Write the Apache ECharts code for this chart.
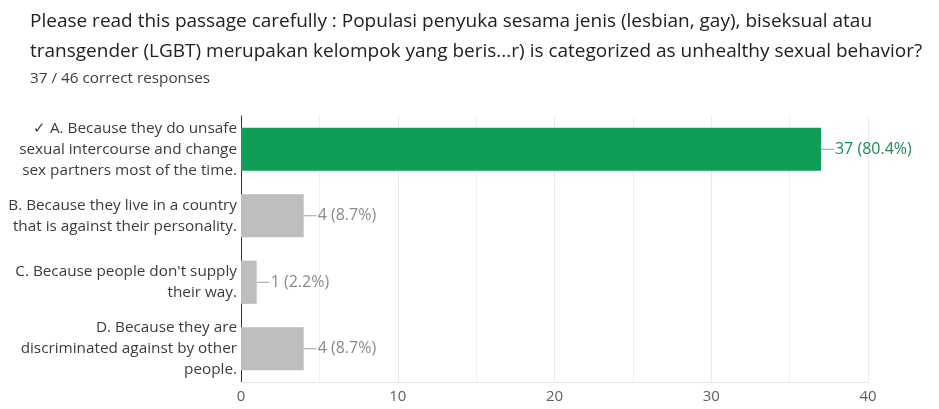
<!DOCTYPE html>
<html><head><meta charset="utf-8">
<script src="https://cdn.jsdelivr.net/npm/echarts@6/dist/echarts.min.js"></script>
<style>html,body{margin:0;padding:0;background:#fff}#c{width:939px;height:409px}</style>
</head><body><div id="c"></div>
<script>
var questionTitle = 'Please read this passage carefully : Populasi penyuka sesama jenis (lesbian, gay), biseksual atau\ntransgender (LGBT) merupakan kelompok yang beris...r) is categorized as unhealthy sexual behavior?';
var responseSummary = '37 / 46 correct responses';
var categories = [
  '\u2713 A. Because they do unsafe\nsexual intercourse and change\nsex partners most of the time.',
  'B. Because they live in a country\nthat is against their personality.',
  "C. Because people don't supply\ntheir way.",
  'D. Because they are\ndiscriminated against by other\npeople.'
];
var counts = [37, 4, 1, 4];
var percents = ['80.4%', '8.7%', '2.2%', '8.7%'];
var correctIndex = 0;
var xTicks = [0, 10, 20, 30, 40];

var chart = echarts.init(document.getElementById('c'));
var data = counts.map(function (v, i) {
  var ok = i === correctIndex;
  return {
    value: v,
    itemStyle: { color: ok ? '#0f9d58' : '#bdbdbd' },
    label: { rich: { v: { color: ok ? '#1b8a55' : '#8a8a8a' } } }
  };
});
chart.setOption({
  animation: false,
  title: [{
    text: questionTitle, left: 25, top: 2,
    textStyle: { fontFamily: 'Open Sans', fontSize: 19, fontWeight: 'normal', color: '#202124', lineHeight: 30 }
  }, {
    text: responseSummary, left: 25, top: 66,
    textStyle: { fontFamily: 'Open Sans', fontSize: 15.3, fontWeight: 'normal', color: '#3c4043' }
  }],
  grid: { left: 241, right: 71, top: 116, bottom: 27, containLabel: false },
  xAxis: {
    type: 'value', min: xTicks[0], max: xTicks[xTicks.length - 1], interval: 10,
    axisLine: { show: true, lineStyle: { color: '#e6e6e6' } },
    axisTick: { show: false },
    axisLabel: { color: '#5f5f5f', fontFamily: 'Open Sans', fontSize: 15, margin: 7 },
    splitLine: { show: true, lineStyle: { color: '#ebebeb' } },
    minorTick: { show: false, splitNumber: 2 },
    minorSplitLine: { show: true, lineStyle: { color: '#f0f0f0' } }
  },
  yAxis: {
    type: 'category', data: categories, inverse: true,
    axisLine: { show: true, lineStyle: { color: '#333', width: 1 } },
    axisTick: { show: false },
    axisLabel: { color: '#3c3c3c', fontFamily: 'Open Sans', fontSize: 15.3, lineHeight: 21, margin: 4, align: 'right' }
  },
  series: [{
    type: 'bar', data: data, barCategoryGap: '35%',
    label: {
      show: true, position: 'right', distance: 0,
      formatter: function (p) { return '{l|}{v|' + counts[p.dataIndex] + ' (' + percents[p.dataIndex] + ')}'; },
      rich: {
        l: { width: 13, height: 1, backgroundColor: '#9e9e9e', verticalAlign: 'middle' },
        v: { fontFamily: 'Open Sans', fontSize: 16, verticalAlign: 'middle', padding: [0, 0, 0, 1] }
      }
    }
  }]
});
</script></body></html>
